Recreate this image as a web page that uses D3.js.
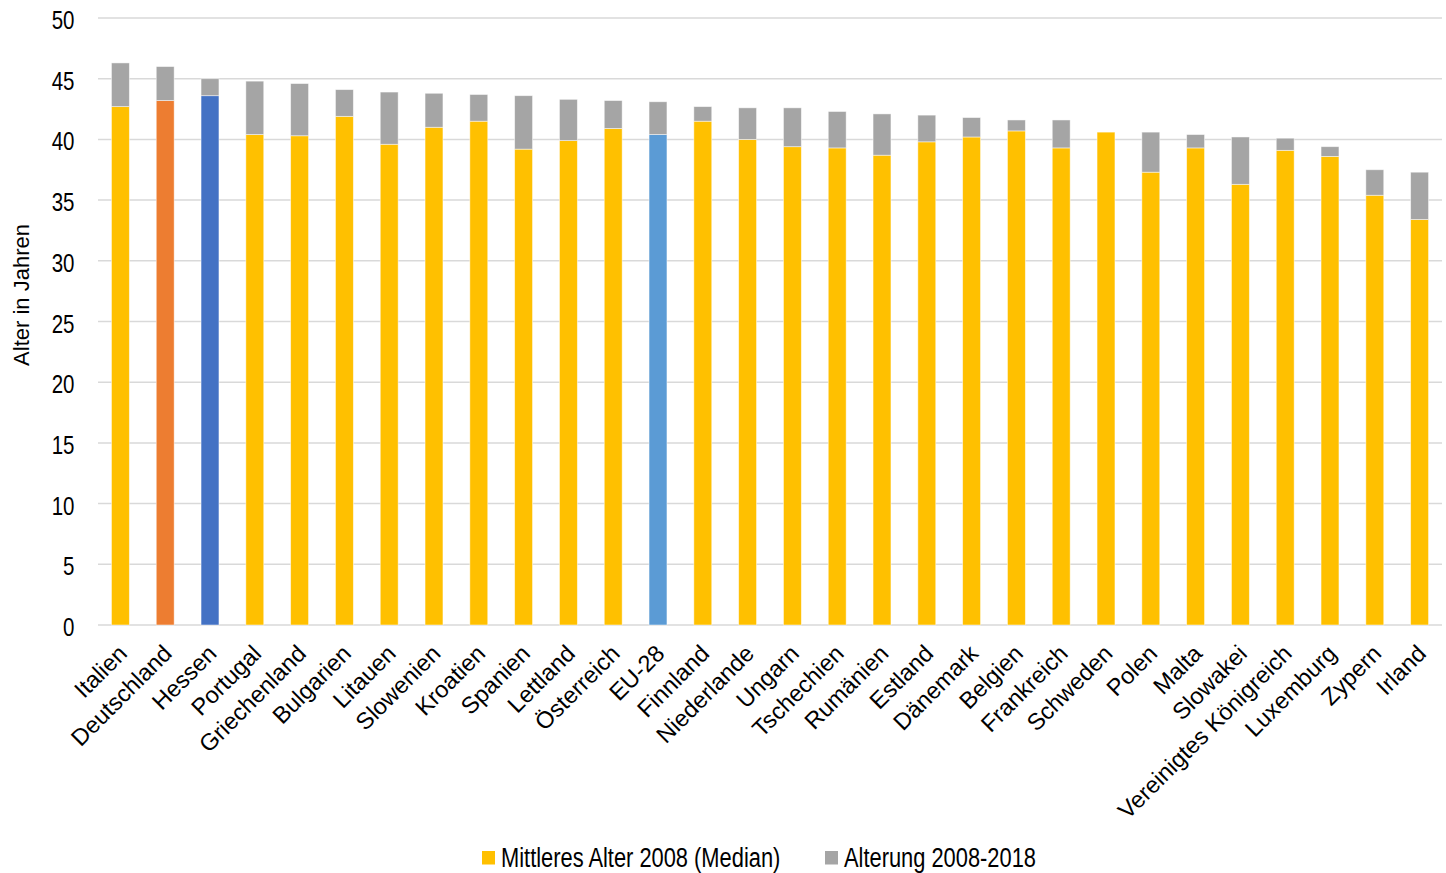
<!DOCTYPE html>
<html>
<head>
<meta charset="utf-8">
<script src="https://cdn.jsdelivr.net/npm/d3@7/dist/d3.min.js"></script>
<style>
  html, body { margin: 0; padding: 0; background: #fff; }
  svg { display: block; }
  text { font-family: "Liberation Sans", Arial, sans-serif; fill: #000; }
</style>
</head>
<body>
<svg id="chart" width="1446" height="873"></svg>
<script>
const categories = ["Italien","Deutschland","Hessen","Portugal","Griechenland","Bulgarien","Litauen","Slowenien","Kroatien","Spanien","Lettland","Österreich","EU-28","Finnland","Niederlande","Ungarn","Tschechien","Rumänien","Estland","Dänemark","Belgien","Frankreich","Schweden","Polen","Malta","Slowakei","Vereinigtes Königreich","Luxemburg","Zypern","Irland"];
const median2008 = [42.7,43.2,43.6,40.4,40.3,41.9,39.6,41.0,41.5,39.2,39.9,40.9,40.4,41.5,40.0,39.4,39.3,38.7,39.8,40.2,40.7,39.3,40.6,37.3,39.3,36.3,39.1,38.6,35.4,33.4];
const aging = [3.6,2.8,1.4,4.4,4.3,2.2,4.3,2.8,2.2,4.4,3.4,2.3,2.7,1.2,2.6,3.2,3.0,3.4,2.2,1.6,0.9,2.3,0.0,3.3,1.1,3.9,1.0,0.8,2.1,3.9];
const yTicks = [0,5,10,15,20,25,30,35,40,45,50];
const seriesNames = ["Mittleres Alter 2008 (Median)","Alterung 2008-2018"];

const colors = { base: "#FFC000", aging: "#A5A5A5" };
const highlight = { "Deutschland": "#ED7D31", "Hessen": "#4472C4", "EU-28": "#5B9BD5" };

const svg = d3.select("#chart");
const pL = 98, pR = 1442, pT = 18, pB = 625;

const x = d3.scaleBand().domain(categories).range([pL, pR]).paddingInner(0.6).paddingOuter(0.3);
const y = d3.scaleLinear().domain([0, 50]).range([pB, pT]);

// grid
svg.append("g").selectAll("line").data(yTicks).join("line")
  .attr("x1", pL).attr("x2", pR)
  .attr("y1", d => y(d)).attr("y2", d => y(d))
  .attr("stroke", "#D9D9D9").attr("stroke-width", 1.5);

// y axis labels (condensed look)
const yAxis = d3.axisLeft(y).tickValues(yTicks).tickSize(0).tickPadding(0);
const ga = svg.append("g").attr("transform", `translate(74.5,1.5)`).call(yAxis);
ga.select(".domain").remove();
ga.selectAll("text")
  .attr("font-size", 25).attr("font-family", null)
  .attr("x", 0).attr("dy", "0.36em")
  .attr("transform", "scale(0.82,1)");

// bars
const rows = categories.map((c, i) => ({ c, m: median2008[i], a: aging[i] }));
const g = svg.append("g");
g.selectAll("rect.base").data(rows).join("rect").attr("class", "base")
  .attr("x", d => x(d.c)).attr("width", x.bandwidth())
  .attr("y", d => y(d.m)).attr("height", d => y(0) - y(d.m))
  .attr("fill", d => highlight[d.c] || colors.base);
g.selectAll("rect.aging").data(rows.filter(d => d.a > 0)).join("rect").attr("class", "aging")
  .attr("x", d => x(d.c)).attr("width", x.bandwidth())
  .attr("y", d => y(d.m + d.a)).attr("height", d => y(d.m) - y(d.m + d.a))
  .attr("fill", colors.aging);
g.selectAll("rect").attr("stroke", "#fff").attr("stroke-width", 0.8).attr("stroke-opacity", 0.6);

// x labels
svg.append("g").selectAll("text").data(categories).join("text")
  .attr("text-anchor", "end")
  .attr("font-size", 23.5)
  .attr("transform", d => `translate(${x(d) + x.bandwidth() / 2 + 8},${pB + 30}) rotate(-45)`)
  .text(d => d);

// y title
svg.append("text").attr("text-anchor", "middle").attr("font-size", 22)
  .attr("transform", `translate(28.5,295) rotate(-90)`)
  .text("Alter in Jahren");

// legend
const legend = svg.append("g");
const lx = [482, 825];
seriesNames.forEach((n, i) => {
  legend.append("rect").attr("x", lx[i]).attr("y", 851).attr("width", 13).attr("height", 13.5)
    .attr("fill", i === 0 ? colors.base : colors.aging);
  legend.append("text").attr("font-size", 27)
    .attr("transform", `translate(${lx[i] + 19},866.5) scale(0.81,1)`)
    .text(n);
});
</script>
</body>
</html>
